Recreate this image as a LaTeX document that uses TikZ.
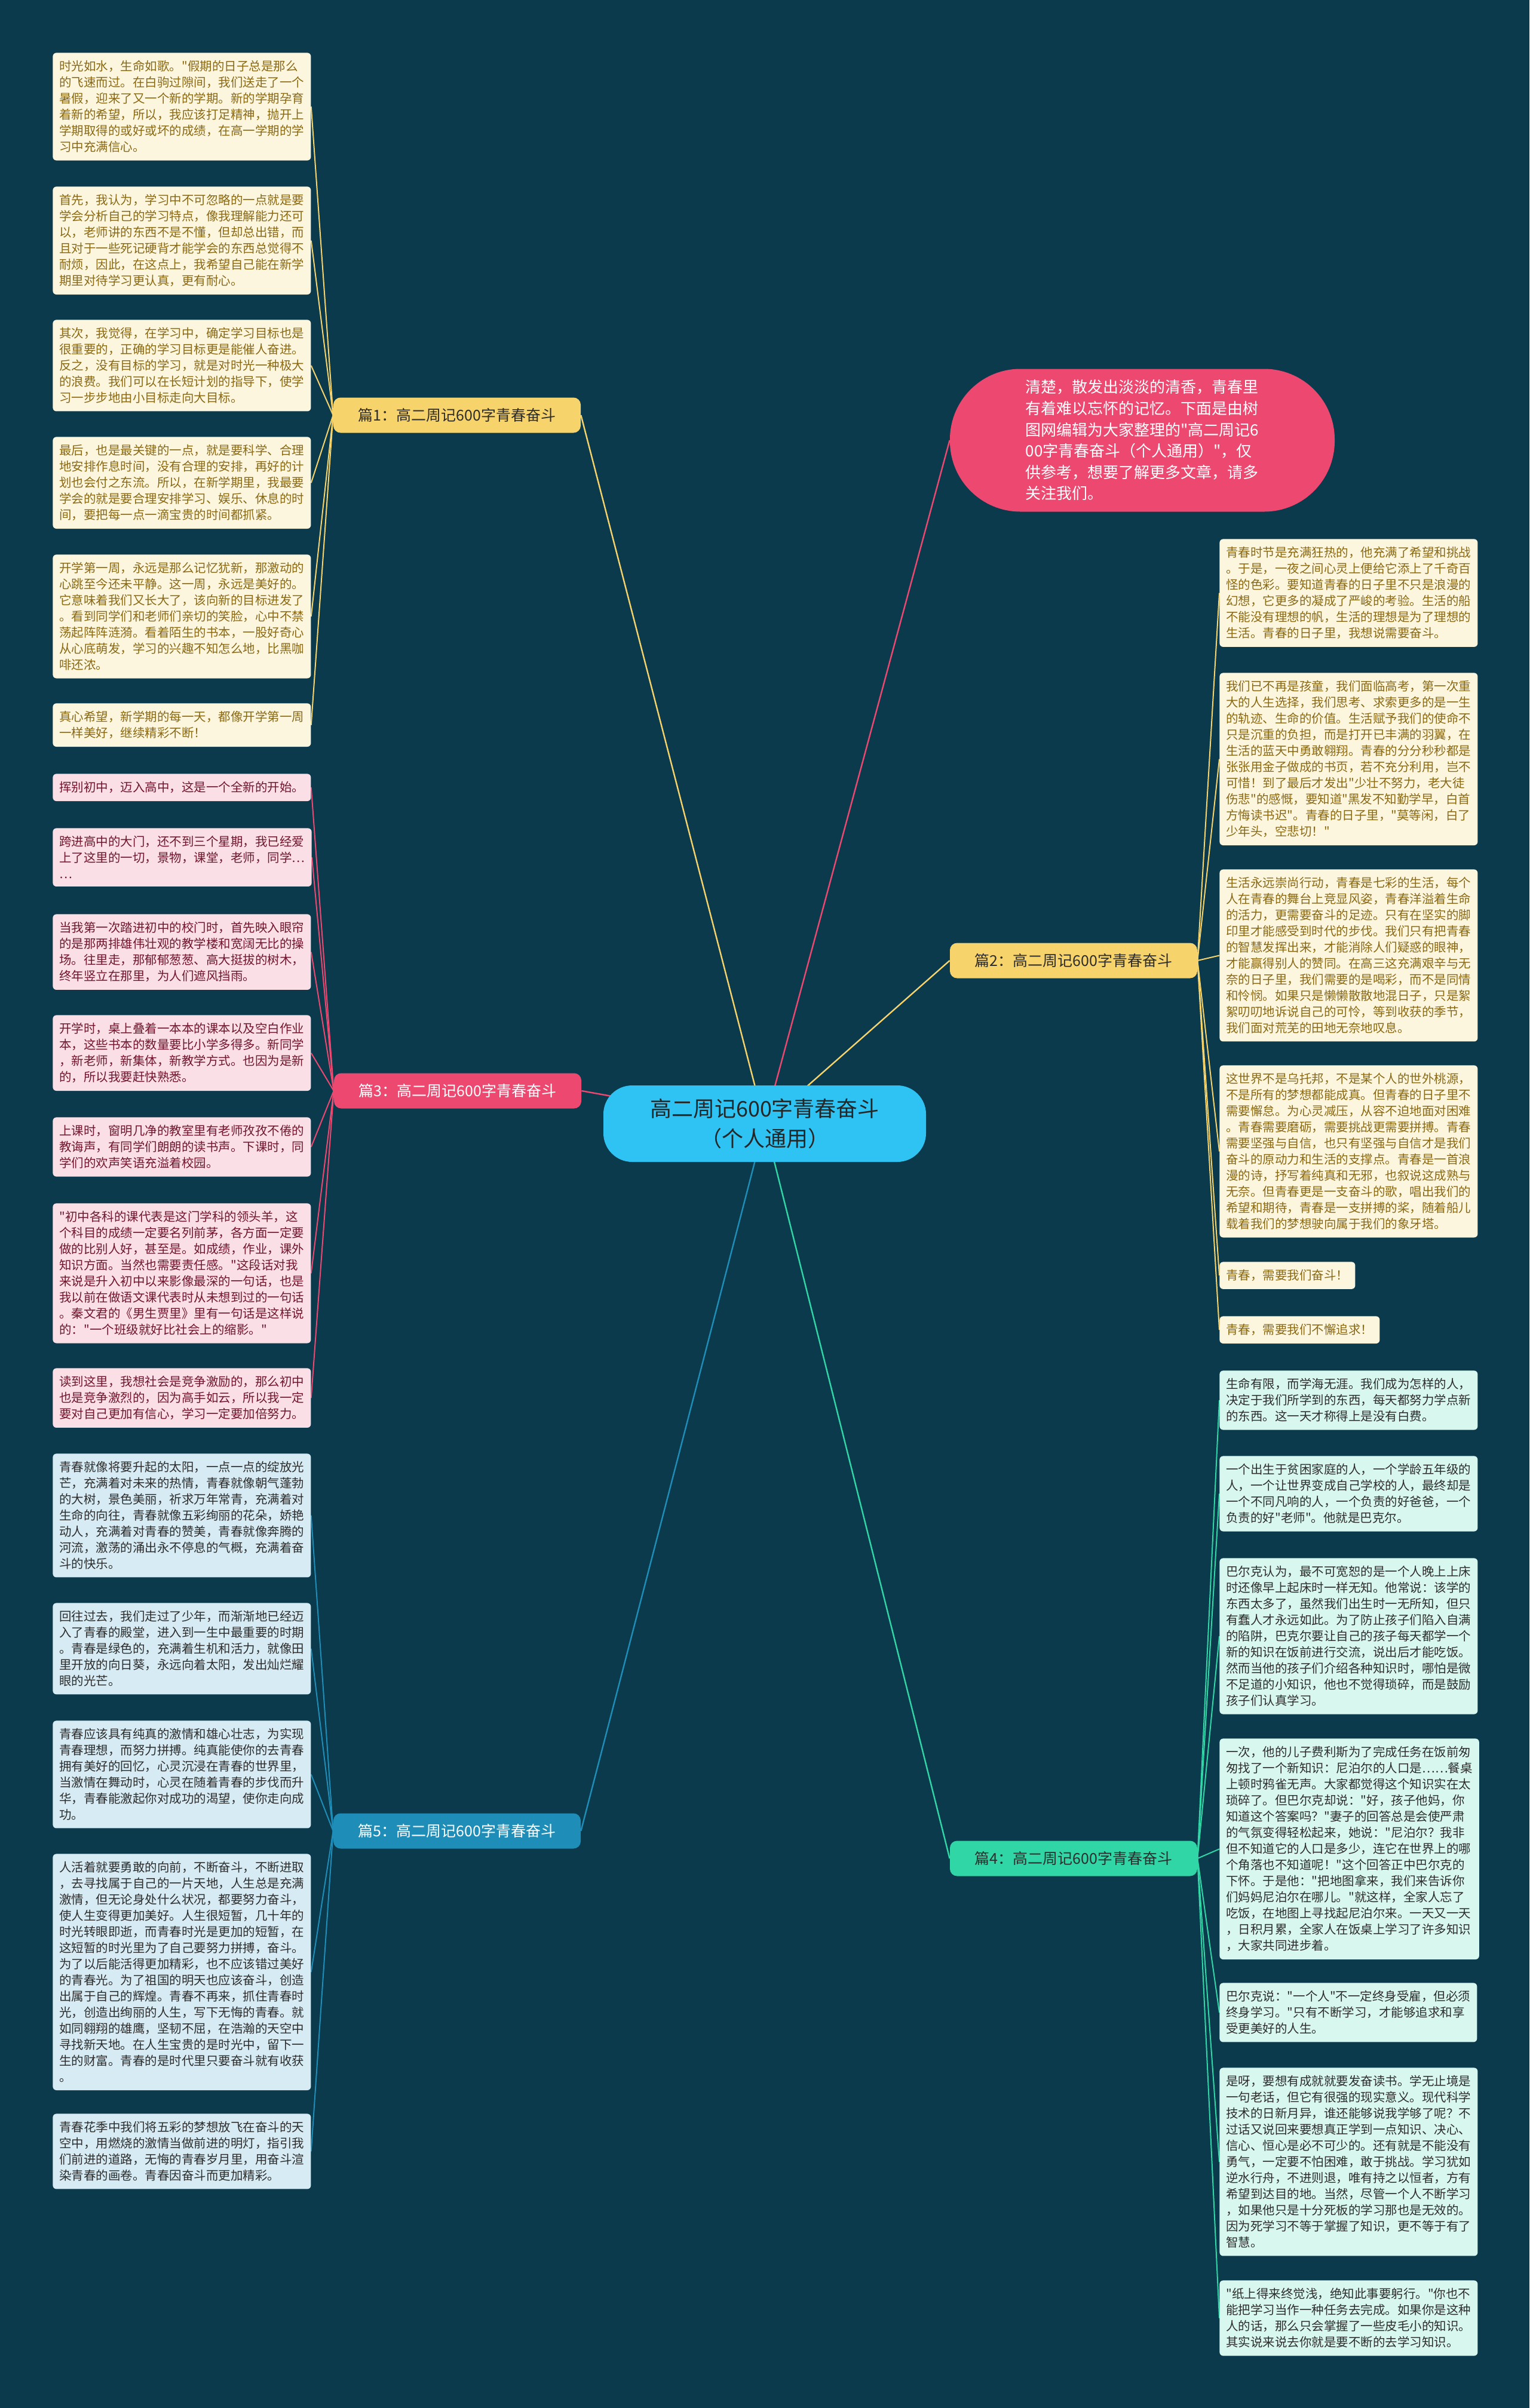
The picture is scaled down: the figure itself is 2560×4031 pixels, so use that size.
\documentclass[tikz,border=0pt]{standalone}
\usepackage{fontspec}
\newfontfamily\cjk{Noto Sans CJK SC}
\usepackage{tikz}
\usetikzlibrary{calc, positioning, backgrounds}
\definecolor{bgnavy}{RGB}{11,58,77}
\definecolor{rootblue}{RGB}{46,195,242}
\definecolor{goldline}{RGB}{247,211,107}
\definecolor{goldfill}{RGB}{253,246,222}
\definecolor{goldtext}{RGB}{138,105,20}
\definecolor{roseline}{RGB}{236,72,112}
\definecolor{rosefill}{RGB}{251,223,230}
\definecolor{rosetext}{RGB}{112,22,46}
\definecolor{skyline}{RGB}{30,142,184}
\definecolor{skyfill}{RGB}{214,235,243}
\definecolor{mintline}{RGB}{48,214,166}
\definecolor{mintfill}{RGB}{216,247,238}
\definecolor{inktext}{RGB}{45,45,45}
\pgfdeclarelayer{edges}
\pgfsetlayers{background,edges,main}

\begin{document}
\begin{tikzpicture}[x=0.5pt, y=-0.5pt,
    leafbox/.style={anchor=north west, rounded corners=3pt, inner xsep=5.5pt, inner ysep=6.5pt,
        align=left, font=\cjk\fontsize{10.25pt}{13.5pt}\selectfont},
    goldleaf/.style={leafbox, fill=goldfill, text=goldtext},
    roseleaf/.style={leafbox, fill=rosefill, text=rosetext},
    skyleaf/.style={leafbox, fill=skyfill, text=inktext},
    mintleaf/.style={leafbox, fill=mintfill, text=inktext},
    topic/.style={rounded corners=6pt, minimum width=207pt, minimum height=29.5pt,
        inner sep=0pt, font=\cjk\fontsize{12.5pt}{15pt}\selectfont},
    link/.style={line width=1.2pt},
    twig/.style={line width=1pt}]

\begin{pgfonlayer}{background}
    \fill[bgnavy] (0,0) rectangle (2560,4031);
\end{pgfonlayer}

% centre and intro
\node[fill=rootblue, text=black!85, rounded corners=24pt, minimum width=270pt, minimum height=64pt,
    align=center, font=\cjk\fontsize{18pt}{25pt}\selectfont] (root) at (1280,1881)
    {高二周记600字青春奋斗\\（个人通用）};
\node[fill=roseline, text=white, rounded corners=59pt, minimum width=322pt, minimum height=119.5pt,
    align=left, font=\cjk\fontsize{13pt}{17.8pt}\selectfont] (intro) at (1912,737)
    {清楚，散发出淡淡的清香，青春里\\有着难以忘怀的记忆。下面是由树\\图网编辑为大家整理的"高二周记6\\00字青春奋斗（个人通用）"，仅\\供参考，想要了解更多文章，请多\\关注我们。};

% topics
\node[topic, fill=goldline, text=inktext] (pian1) at (765,695) {篇1：高二周记600字青春奋斗};
\node[topic, fill=goldline, text=inktext] (pian2) at (1797,1608) {篇2：高二周记600字青春奋斗};
\node[topic, fill=roseline, text=white] (pian3) at (766,1826) {篇3：高二周记600字青春奋斗};
\node[topic, fill=mintline, text=inktext] (pian4) at (1797,3111) {篇4：高二周记600字青春奋斗};
\node[topic, fill=skyline, text=white] (pian5) at (765,3065) {篇5：高二周记600字青春奋斗};

% 篇1
\node[goldleaf] (p1a) at (88,88) {时光如水，生命如歌。"假期的日子总是那么\\的飞速而过。在白驹过隙间，我们送走了一个\\暑假，迎来了又一个新的学期。新的学期孕育\\着新的希望，所以，我应该打足精神，抛开上\\学期取得的或好或坏的成绩，在高一学期的学\\习中充满信心。};
\node[goldleaf] (p1b) at (88,312) {首先，我认为，学习中不可忽略的一点就是要\\学会分析自己的学习特点，像我理解能力还可\\以，老师讲的东西不是不懂，但却总出错，而\\且对于一些死记硬背才能学会的东西总觉得不\\耐烦，因此，在这点上，我希望自己能在新学\\期里对待学习更认真，更有耐心。};
\node[goldleaf] (p1c) at (88,535) {其次，我觉得，在学习中，确定学习目标也是\\很重要的，正确的学习目标更是能催人奋进。\\反之，没有目标的学习，就是对时光一种极大\\的浪费。我们可以在长短计划的指导下，使学\\习一步步地由小目标走向大目标。};
\node[goldleaf] (p1d) at (88,731) {最后，也是最关键的一点，就是要科学、合理\\地安排作息时间，没有合理的安排，再好的计\\划也会付之东流。所以，在新学期里，我最要\\学会的就是要合理安排学习、娱乐、休息的时\\间，要把每一点一滴宝贵的时间都抓紧。};
\node[goldleaf] (p1e) at (88,928) {开学第一周，永远是那么记忆犹新，那激动的\\心跳至今还未平静。这一周，永远是美好的。\\它意味着我们又长大了，该向新的目标进发了\\。看到同学们和老师们亲切的笑脸，心中不禁\\荡起阵阵涟漪。看着陌生的书本，一股好奇心\\从心底萌发，学习的兴趣不知怎么地，比黑咖\\啡还浓。};
\node[goldleaf] (p1f) at (88,1177) {真心希望，新学期的每一天，都像开学第一周\\一样美好，继续精彩不断！};

% 篇3
\node[roseleaf] (p3a) at (88,1295) {挥别初中，迈入高中，这是一个全新的开始。};
\node[roseleaf] (p3b) at (88,1386) {跨进高中的大门，还不到三个星期，我已经爱\\上了这里的一切，景物，课堂，老师，同学…\\…};
\node[roseleaf] (p3c) at (88,1530) {当我第一次踏进初中的校门时，首先映入眼帘\\的是那两排雄伟壮观的教学楼和宽阔无比的操\\场。往里走，那郁郁葱葱、高大挺拔的树木，\\终年竖立在那里，为人们遮风挡雨。};
\node[roseleaf] (p3d) at (88,1699) {开学时，桌上叠着一本本的课本以及空白作业\\本，这些书本的数量要比小学多得多。新同学\\，新老师，新集体，新教学方式。也因为是新\\的，所以我要赶快熟悉。};
\node[roseleaf] (p3e) at (88,1870) {上课时，窗明几净的教室里有老师孜孜不倦的\\教诲声，有同学们朗朗的读书声。下课时，同\\学们的欢声笑语充溢着校园。};
\node[roseleaf] (p3f) at (88,2014) {"初中各科的课代表是这门学科的领头羊，这\\个科目的成绩一定要名列前茅，各方面一定要\\做的比别人好，甚至是。如成绩，作业，课外\\知识方面。当然也需要责任感。"这段话对我\\来说是升入初中以来影像最深的一句话，也是\\我以前在做语文课代表时从未想到过的一句话\\。秦文君的《男生贾里》里有一句话是这样说\\的："一个班级就好比社会上的缩影。"};
\node[roseleaf] (p3g) at (88,2290) {读到这里，我想社会是竞争激励的，那么初中\\也是竞争激烈的，因为高手如云，所以我一定\\要对自己更加有信心，学习一定要加倍努力。};

% 篇5
\node[skyleaf] (p5a) at (88,2433) {青春就像将要升起的太阳，一点一点的绽放光\\芒，充满着对未来的热情，青春就像朝气蓬勃\\的大树，景色美丽，祈求万年常青，充满着对\\生命的向往，青春就像五彩绚丽的花朵，娇艳\\动人，充满着对青春的赞美，青春就像奔腾的\\河流，激荡的涌出永不停息的气概，充满着奋\\斗的快乐。};
\node[skyleaf] (p5b) at (88,2683) {回往过去，我们走过了少年，而渐渐地已经迈\\入了青春的殿堂，进入到一生中最重要的时期\\。青春是绿色的，充满着生机和活力，就像田\\里开放的向日葵，永远向着太阳，发出灿烂耀\\眼的光芒。};
\node[skyleaf] (p5c) at (88,2880) {青春应该具有纯真的激情和雄心壮志，为实现\\青春理想，而努力拼搏。纯真能使你的去青春\\拥有美好的回忆，心灵沉浸在青春的世界里，\\当激情在舞动时，心灵在随着青春的步伐而升\\华，青春能激起你对成功的渴望，使你走向成\\功。};
\node[skyleaf] (p5d) at (88,3103) {人活着就要勇敢的向前，不断奋斗，不断进取\\，去寻找属于自己的一片天地，人生总是充满\\激情，但无论身处什么状况，都要努力奋斗，\\使人生变得更加美好。人生很短暂，几十年的\\时光转眼即逝，而青春时光是更加的短暂，在\\这短暂的时光里为了自己要努力拼搏，奋斗。\\为了以后能活得更加精彩，也不应该错过美好\\的青春光。为了祖国的明天也应该奋斗，创造\\出属于自己的辉煌。青春不再来，抓住青春时\\光，创造出绚丽的人生，写下无悔的青春。就\\如同翱翔的雄鹰，坚韧不屈，在浩瀚的天空中\\寻找新天地。在人生宝贵的是时光中，留下一\\生的财富。青春的是时代里只要奋斗就有收获\\。};
\node[skyleaf] (p5e) at (88,3538) {青春花季中我们将五彩的梦想放飞在奋斗的天\\空中，用燃烧的激情当做前进的明灯，指引我\\们前进的道路，无悔的青春岁月里，用奋斗渲\\染青春的画卷。青春因奋斗而更加精彩。};

% 篇2
\node[goldleaf] (p2a) at (2041,902) {青春时节是充满狂热的，他充满了希望和挑战\\。于是，一夜之间心灵上便给它添上了千奇百\\怪的色彩。要知道青春的日子里不只是浪漫的\\幻想，它更多的凝成了严峻的考验。生活的船\\不能没有理想的帆，生活的理想是为了理想的\\生活。青春的日子里，我想说需要奋斗。};
\node[goldleaf] (p2b) at (2041,1126) {我们已不再是孩童，我们面临高考，第一次重\\大的人生选择，我们思考、求索更多的是一生\\的轨迹、生命的价值。生活赋予我们的使命不\\只是沉重的负担，而是打开已丰满的羽翼，在\\生活的蓝天中勇敢翱翔。青春的分分秒秒都是\\张张用金子做成的书页，若不充分利用，岂不\\可惜！到了最后才发出"少壮不努力，老大徒\\伤悲"的感慨，要知道"黑发不知勤学早，白首\\方悔读书迟"。青春的日子里，"莫等闲，白了\\少年头，空悲切！"};
\node[goldleaf] (p2c) at (2041,1455) {生活永远崇尚行动，青春是七彩的生活，每个\\人在青春的舞台上竞显风姿，青春洋溢着生命\\的活力，更需要奋斗的足迹。只有在坚实的脚\\印里才能感受到时代的步伐。我们只有把青春\\的智慧发挥出来，才能消除人们疑惑的眼神，\\才能赢得别人的赞同。在高三这充满艰辛与无\\奈的日子里，我们需要的是喝彩，而不是同情\\和怜悯。如果只是懒懒散散地混日子，只是絮\\絮叨叨地诉说自己的可怜，等到收获的季节，\\我们面对荒芜的田地无奈地叹息。};
\node[goldleaf] (p2d) at (2041,1783) {这世界不是乌托邦，不是某个人的世外桃源，\\不是所有的梦想都能成真。但青春的日子里不\\需要懈怠。为心灵减压，从容不迫地面对困难\\。青春需要磨砺，需要挑战更需要拼搏。青春\\需要坚强与自信，也只有坚强与自信才是我们\\奋斗的原动力和生活的支撑点。青春是一首浪\\漫的诗，抒写着纯真和无邪，也叙说这成熟与\\无奈。但青春更是一支奋斗的歌，唱出我们的\\希望和期待，青春是一支拼搏的桨，随着船儿\\载着我们的梦想驶向属于我们的象牙塔。};
\node[goldleaf] (p2e) at (2041,2112) {青春，需要我们奋斗！};
\node[goldleaf] (p2f) at (2041,2203) {青春，需要我们不懈追求！};

% 篇4
\node[mintleaf] (p4a) at (2041,2294) {生命有限，而学海无涯。我们成为怎样的人，\\决定于我们所学到的东西，每天都努力学点新\\的东西。这一天才称得上是没有白费。};
\node[mintleaf] (p4b) at (2041,2437) {一个出生于贫困家庭的人，一个学龄五年级的\\人，一个让世界变成自己学校的人，最终却是\\一个不同凡响的人，一个负责的好爸爸，一个\\负责的好"老师"。他就是巴克尔。};
\node[mintleaf] (p4c) at (2041,2608) {巴尔克认为，最不可宽恕的是一个人晚上上床\\时还像早上起床时一样无知。他常说：该学的\\东西太多了，虽然我们出生时一无所知，但只\\有蠢人才永远如此。为了防止孩子们陷入自满\\的陷阱，巴克尔要让自己的孩子每天都学一个\\新的知识在饭前进行交流，说出后才能吃饭。\\然而当他的孩子们介绍各种知识时，哪怕是微\\不足道的小知识，他也不觉得琐碎，而是鼓励\\孩子们认真学习。};
\node[mintleaf] (p4d) at (2041,2910) {一次，他的儿子费利斯为了完成任务在饭前匆\\匆找了一个新知识：尼泊尔的人口是……餐桌\\上顿时鸦雀无声。大家都觉得这个知识实在太\\琐碎了。但巴尔克却说："好，孩子他妈，你\\知道这个答案吗？"妻子的回答总是会使严肃\\的气氛变得轻松起来，她说："尼泊尔？我非\\但不知道它的人口是多少，连它在世界上的哪\\个角落也不知道呢！"这个回答正中巴尔克的\\下怀。于是他："把地图拿来，我们来告诉你\\们妈妈尼泊尔在哪儿。"就这样，全家人忘了\\吃饭，在地图上寻找起尼泊尔来。一天又一天\\，日积月累，全家人在饭桌上学习了许多知识\\，大家共同进步着。};
\node[mintleaf] (p4e) at (2041,3319) {巴尔克说："一个人"不一定终身受雇，但必须\\终身学习。"只有不断学习，才能够追求和享\\受更美好的人生。};
\node[mintleaf] (p4f) at (2041,3461) {是呀，要想有成就就要发奋读书。学无止境是\\一句老话，但它有很强的现实意义。现代科学\\技术的日新月异，谁还能够说我学够了呢？不\\过话又说回来要想真正学到一点知识、决心、\\信心、恒心是必不可少的。还有就是不能没有\\勇气，一定要不怕困难，敢于挑战。学习犹如\\逆水行舟，不进则退，唯有持之以恒者，方有\\希望到达目的地。当然，尽管一个人不断学习\\，如果他只是十分死板的学习那也是无效的。\\因为死学习不等于掌握了知识，更不等于有了\\智慧。};
\node[mintleaf] (p4g) at (2041,3817) {"纸上得来终觉浅，绝知此事要躬行。"你也不\\能把学习当作一种任务去完成。如果你是这种\\人的话，那么只会掌握了一些皮毛小的知识。\\其实说来说去你就是要不断的去学习知识。};

% connectors
\begin{pgfonlayer}{edges}
    \draw[link, roseline] (root.center) .. controls ($(root.center)!.5!(intro.west)$ |- root.center) and ($(root.center)!.5!(intro.west)$ |- intro.west) .. (intro.west);
    \foreach \topicname/\tip/\col in {pian1/east/goldline, pian3/east/roseline, pian5/east/skyline,
                                       pian2/west/goldline, pian4/west/mintline}
        \draw[link, \col] (root.center) .. controls ($(root.center)!.5!(\topicname.\tip)$ |- root.center) and ($(root.center)!.5!(\topicname.\tip)$ |- \topicname.\tip) .. (\topicname.\tip);
    \foreach \leafname in {p1a,p1b,p1c,p1d,p1e,p1f}
        \draw[twig, goldline] (pian1.west) .. controls ($(pian1.west)!.5!(\leafname.east)$ |- pian1.west) and ($(pian1.west)!.5!(\leafname.east)$ |- \leafname.east) .. (\leafname.east);
    \foreach \leafname in {p3a,p3b,p3c,p3d,p3e,p3f,p3g}
        \draw[twig, roseline] (pian3.west) .. controls ($(pian3.west)!.5!(\leafname.east)$ |- pian3.west) and ($(pian3.west)!.5!(\leafname.east)$ |- \leafname.east) .. (\leafname.east);
    \foreach \leafname in {p5a,p5b,p5c,p5d,p5e}
        \draw[twig, skyline] (pian5.west) .. controls ($(pian5.west)!.5!(\leafname.east)$ |- pian5.west) and ($(pian5.west)!.5!(\leafname.east)$ |- \leafname.east) .. (\leafname.east);
    \foreach \leafname in {p2a,p2b,p2c,p2d,p2e,p2f}
        \draw[twig, goldline] (pian2.east) .. controls ($(pian2.east)!.5!(\leafname.west)$ |- pian2.east) and ($(pian2.east)!.5!(\leafname.west)$ |- \leafname.west) .. (\leafname.west);
    \foreach \leafname in {p4a,p4b,p4c,p4d,p4e,p4f,p4g}
        \draw[twig, mintline] (pian4.east) .. controls ($(pian4.east)!.5!(\leafname.west)$ |- pian4.east) and ($(pian4.east)!.5!(\leafname.west)$ |- \leafname.west) .. (\leafname.west);
\end{pgfonlayer}
\end{tikzpicture}
\end{document}
